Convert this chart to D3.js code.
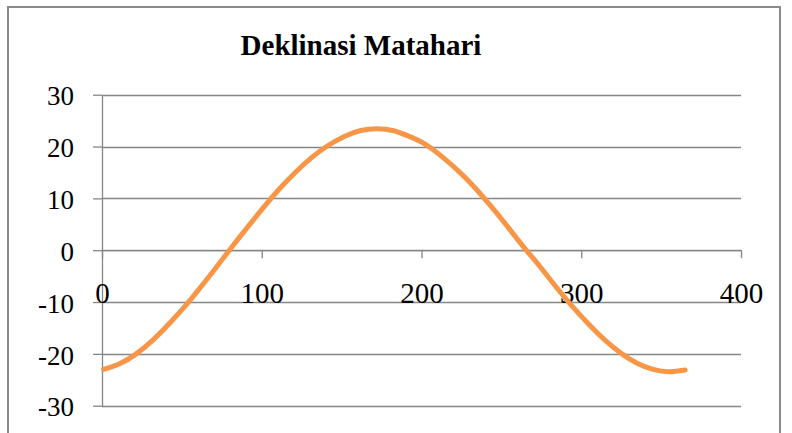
<!DOCTYPE html>
<html>
<head>
<meta charset="utf-8">
<script src="https://cdn.jsdelivr.net/npm/d3@7/dist/d3.min.js"></script>
<style>
  html, body { margin: 0; padding: 0; background: #fff; }
  svg { display: block; font-family: "Liberation Serif", "Times New Roman", serif; }
</style>
</head>
<body>
<svg id="chart" width="792" height="433"></svg>
<script>
// Day of year (1 = 1 January) and solar declination in degrees
const days = [1, 11, 21, 32, 42, 52, 60, 70, 80, 91, 101, 111, 121, 131, 141, 152, 162, 172,
              182, 192, 202, 213, 223, 233, 244, 254, 264, 274, 284, 294, 305, 315, 325, 335,
              345, 355, 365];
const declination = [-23.0, -21.9, -20.1, -17.3, -14.2, -10.8, -7.8, -3.9, 0.1, 4.4, 8.2, 11.8,
                     15.0, 17.8, 20.1, 22.0, 23.1, 23.44, 23.1, 22.0, 20.5, 18.0, 15.3, 12.2,
                     8.3, 4.5, 0.6, -3.1, -7.0, -10.7, -14.4, -17.4, -19.9, -21.8, -23.0, -23.44,
                     -23.1];
const xTicks = [0, 100, 200, 300, 400];
const yTicks = [-30, -20, -10, 0, 10, 20, 30];
const title = "Deklinasi Matahari";

const svg = d3.select("#chart");
const gridColor = "#868686";
const plainNumber = d => String(d);   // ASCII hyphen for negatives

// outer chart frame
svg.append("rect")
  .attr("x", 8).attr("y", 7)
  .attr("width", 772).attr("height", 440)
  .attr("fill", "#fff")
  .attr("stroke", "#8a8a8a")
  .attr("stroke-width", 2);

const x = d3.scaleLinear().domain([0, 400]).range([102, 741]);
const y = d3.scaleLinear().domain([-30, 30]).range([405.7, 94.7]);

// horizontal gridlines
svg.append("g")
  .selectAll("line")
  .data(yTicks)
  .join("line")
  .attr("x1", x(0)).attr("x2", x(400))
  .attr("y1", d => Math.round(y(d)) + 0.5)
  .attr("y2", d => Math.round(y(d)) + 0.5)
  .attr("stroke", gridColor)
  .attr("stroke-width", 1.3);

// vertical axis with outside tick marks
const yAxis = svg.append("g")
  .attr("transform", `translate(${x(0)},0)`)
  .call(d3.axisLeft(y).tickValues(yTicks).tickFormat(plainNumber)
    .tickSize(9).tickSizeOuter(0).tickPadding(19));
yAxis.select(".domain").attr("stroke", gridColor).attr("stroke-width", 1.3);
yAxis.selectAll(".tick line").attr("stroke", gridColor).attr("stroke-width", 1.3);
yAxis.selectAll(".tick text")
  .attr("font-family", "Liberation Serif")
  .attr("font-size", 27)
  .attr("fill", "#000")
  .attr("dy", "0.38em");

// horizontal axis crossing at zero
const xAxis = svg.append("g")
  .attr("transform", `translate(0,${y(0)})`)
  .call(d3.axisBottom(x).tickValues(xTicks).tickFormat(plainNumber)
    .tickSize(8).tickSizeOuter(0));
xAxis.select(".domain").attr("stroke", gridColor).attr("stroke-width", 1.3);
xAxis.selectAll(".tick line").attr("stroke", gridColor).attr("stroke-width", 1.3);
xAxis.selectAll(".tick text")
  .attr("font-family", "Liberation Serif")
  .attr("font-size", 29)
  .attr("fill", "#000")
  .attr("y", 52.5)
  .attr("dy", 0);

// declination curve
const pts = days.map((d, i) => [d, declination[i]]);
svg.append("path")
  .datum(pts)
  .attr("fill", "none")
  .attr("stroke", "#F79646")
  .attr("stroke-width", 5)
  .attr("stroke-linecap", "round")
  .attr("d", d3.line().x(d => x(d[0])).y(d => y(d[1])).curve(d3.curveNatural));

// title
svg.append("text")
  .attr("x", 361).attr("y", 55)
  .attr("text-anchor", "middle")
  .attr("font-family", "Liberation Serif")
  .attr("font-weight", "bold")
  .attr("font-size", 29)
  .attr("fill", "#000")
  .text(title);
</script>
</body>
</html>
